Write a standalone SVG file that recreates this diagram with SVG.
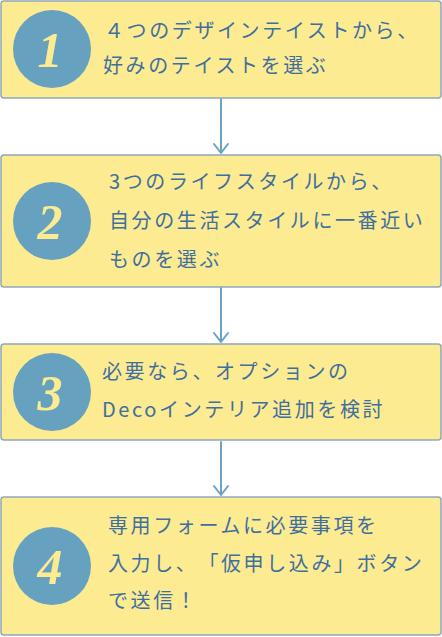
<svg xmlns="http://www.w3.org/2000/svg" width="442" height="637" viewBox="0 0 442 637">
<style>
.box{fill:#fdeb92;stroke:#8ea8b9;stroke-width:1.5}
.num{fill:#66a2c0}
.nt{fill:#fdeb92;font-family:"Liberation Serif",serif;font-style:italic;font-weight:bold;font-size:50px;text-anchor:middle}
.t{fill:#3f6f9f;font-family:"Noto Sans CJK JP","Noto Sans",sans-serif;font-size:20px;letter-spacing:2.6px;text-spacing-trim:space-all}
.c{stroke:#6aa3c4;stroke-width:2;fill:none;stroke-linecap:round;stroke-linejoin:round}
</style>
<rect width="442" height="637" fill="#ffffff"/>
<g id="connectors">
<path class="c" d="M221 99V153M214 144L221 153L228 144"/>
<path class="c" d="M221 288V342M214 333L221 342L228 333"/>
<path class="c" d="M221 442V495M214 486L221 495L228 486"/>
</g>
<g id="step1">
<rect class="box" x="1" y="1" width="440" height="97" rx="3"/>
<circle class="num" cx="52" cy="49" r="39"/>
<text class="nt" x="50" y="67">1</text>
<text class="t" x="104" y="38">４つのデザインテイストから、</text>
<text class="t" x="103" y="73">好みのテイストを選ぶ</text>
</g>
<g id="step2">
<rect class="box" x="1" y="155" width="440" height="132" rx="3"/>
<circle class="num" cx="52" cy="221" r="39"/>
<text class="nt" x="50" y="239">2</text>
<text class="t" x="109" y="189">3つのライフスタイルから、</text>
<text class="t" x="109" y="228">自分の生活スタイルに一番近い</text>
<text class="t" x="109" y="267">ものを選ぶ</text>
</g>
<g id="step3">
<rect class="box" x="1" y="344" width="440" height="96" rx="3"/>
<circle class="num" cx="52" cy="392" r="39"/>
<text class="nt" x="50" y="410">3</text>
<text class="t" x="102" y="379">必要なら、オプションの</text>
<text class="t" x="102" y="417">Decoインテリア追加を検討</text>
</g>
<g id="step4">
<rect class="box" x="1" y="497" width="440" height="138" rx="3"/>
<circle class="num" cx="52" cy="566" r="39"/>
<text class="nt" x="50" y="584">4</text>
<text class="t" x="108" y="533">専用フォームに必要事項を</text>
<text class="t" x="108" y="571">入力し、「仮申し込み」ボタン</text>
<text class="t" x="108" y="608">で送信！</text>
</g>
</svg>
